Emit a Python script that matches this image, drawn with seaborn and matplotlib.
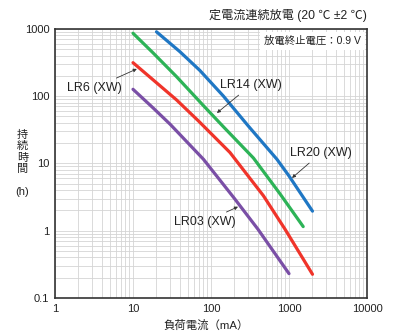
import matplotlib
matplotlib.use('Agg')
import matplotlib.pyplot as plt
import pandas as pd
import seaborn as sns

# 読み取った値 (負荷電流 mA, 持続時間 h)
lr20_ma = [20, 40, 72, 144, 300, 700, 1000, 2000]
lr20_h = [900, 455, 240, 100, 36, 11.5, 6.5, 1.95]

lr14_ma = [10, 18, 36, 80, 144, 350, 770, 1520]
lr14_h = [857, 440, 195, 72, 35, 12.0, 3.5, 1.15]

lr6_ma = [10, 18, 36, 70, 175, 470, 890, 2000]
lr6_h = [313, 175, 88, 42, 14.5, 3.3, 1.05, 0.225]

lr03_ma = [10, 18, 30, 80, 200, 400, 1000]
lr03_h = [126, 67, 38, 11.5, 3.0, 1.05, 0.23]

names = ['LR20', 'LR14', 'LR6', 'LR03']
colors = ['#1f77c4', '#2db357', '#f0342a', '#7a4fa6']

frames = []
for n, xs, ys in zip(names, [lr20_ma, lr14_ma, lr6_ma, lr03_ma],
                     [lr20_h, lr14_h, lr6_h, lr03_h]):
    frames.append(pd.DataFrame({'ma': xs, 'h': ys, 'cell': n}))
df = pd.concat(frames, ignore_index=True)

sns.set_theme(style='white')
plt.rcParams['font.family'] = ['Liberation Sans', 'Noto Sans CJK JP', 'DejaVu Sans']

fig = plt.figure(figsize=(4.05, 3.34), dpi=100)
ax = fig.add_axes([0.1358, 0.1078, 0.7704, 0.8062])

sns.lineplot(data=df, x='ma', y='h', hue='cell', palette=dict(zip(names, colors)),
             sort=False, estimator=None, legend=False, linewidth=2.3, ax=ax)
for ln in ax.get_lines():
    ln.set_solid_joinstyle('round')

ax.set_xscale('log')
ax.set_yscale('log')
ax.set_xlim(1, 10000)
ax.set_ylim(0.1, 1000)
ax.set_xticks([1, 10, 100, 1000, 10000])
ax.set_xticklabels(['1', '10', '100', '1000', '10000'])
ax.set_yticks([0.1, 1, 10, 100, 1000])
ax.set_yticklabels(['0.1', '1', '10', '100', '1000'])
ax.grid(True, which='both', color='#d4d4d4', linewidth=0.6)
ax.set_axisbelow(True)
ax.tick_params(which='both', length=0, labelsize=8, colors='#222222', pad=4)
for s in ax.spines.values():
    s.set_color('#333333')
    s.set_linewidth(1.2)
ax.set_xlabel('')
ax.set_ylabel('')

arrow = dict(arrowstyle='-|>', color='#333333', lw=0.6, shrinkA=1, shrinkB=0,
             mutation_scale=5)
fs = 9
ax.annotate('LR6 (XW)', xy=(11.2, 253), xytext=(7.2, 132), ha='right', va='center',
            fontsize=fs, color='#222222', arrowprops=arrow)
ax.annotate('LR14 (XW)', xy=(119, 56), xytext=(326, 146), ha='center', va='center',
            fontsize=fs, color='#222222', arrowprops=arrow)
ax.annotate('LR20 (XW)', xy=(1092, 6.07), xytext=(2570, 14.3), ha='center', va='center',
            fontsize=fs, color='#222222', arrowprops=arrow)
ax.annotate('LR03 (XW)', xy=(222, 2.27), xytext=(83.8, 1.35), ha='center', va='center',
            fontsize=fs, color='#222222', arrowprops=arrow)

ax.text(0.98, 0.955, '放電終止電圧：0.9 V', transform=ax.transAxes, ha='right', va='center',
        fontsize=7.5, color='#222222',
        bbox=dict(facecolor='white', edgecolor='none', pad=3))

fig.text(0.906, 0.955, '定電流連続放電 (20 ℃ ±2 ℃)', ha='right', va='center',
         fontsize=8.7, color='#222222')
# 縦書きの軸ラベル
for ch, yy in zip('持続時間', [0.596, 0.562, 0.528, 0.494]):
    fig.text(0.055, yy, ch, ha='center', va='center', fontsize=8, color='#222222')
fig.text(0.055, 0.425, '(h)', ha='center', va='center', fontsize=8, color='#222222')
fig.text(0.51, 0.027, '負荷電流（mA）', ha='center', va='center', fontsize=8.2,
         color='#222222')

fig.savefig('out.png', dpi=100)
